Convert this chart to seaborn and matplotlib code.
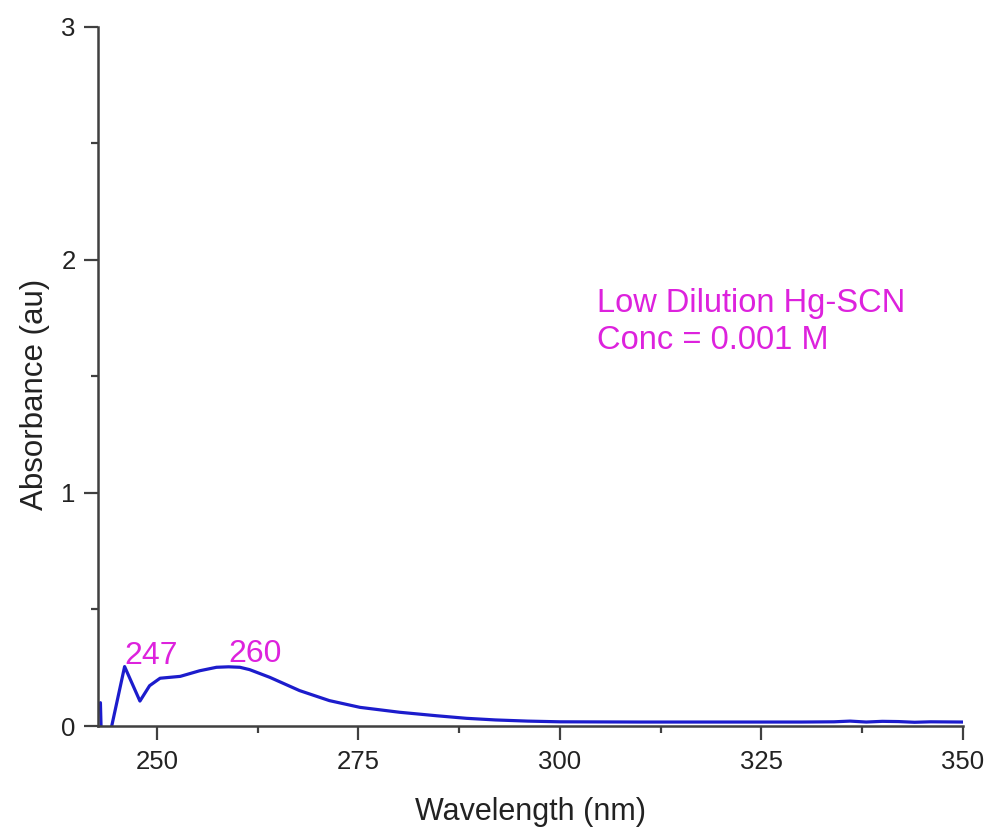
import numpy as np
import pandas as pd
import matplotlib
matplotlib.use("Agg")
import matplotlib.pyplot as plt
import seaborn as sns
from matplotlib.ticker import MultipleLocator

# UV-Vis absorbance spectrum of Hg-SCN (low dilution)
wavelength = [243.0, 243.15, 244.0, 246.0, 247.9, 249.1, 250.4, 252.9, 255.3,
              257.4, 258.9, 260.3, 261.5, 264.0, 267.7, 271.4, 275.2, 280.1,
              284.7, 288.4, 292.0, 296.0, 300.0, 310.0, 320.0, 330.0, 334.0,
              336.0, 338.0, 340.0, 342.0, 344.0, 346.0, 350.0]
absorbance = [0.10, -0.10, -0.064, 0.255, 0.107, 0.173, 0.205, 0.213, 0.237,
              0.252, 0.254, 0.252, 0.242, 0.209, 0.152, 0.109, 0.080, 0.059,
              0.044, 0.033, 0.026, 0.021, 0.018, 0.017, 0.017, 0.017, 0.018,
              0.021, 0.017, 0.020, 0.019, 0.016, 0.018, 0.017]

peak_positions = [246.0, 258.9]
peak_heights = [0.266, 0.273]
peak_labels = ["247", "260"]

note_lines = ["Low Dilution Hg-SCN", "Conc = 0.001 M"]

df = pd.DataFrame({"Wavelength (nm)": wavelength, "Absorbance (au)": absorbance})

sns.set_theme(style="ticks")
plt.rcParams["font.family"] = ["Liberation Sans", "DejaVu Sans"]

fig = plt.figure(figsize=(9.91, 8.30), dpi=100)
ax = fig.add_axes([0.0989, 0.1253, 0.9717 - 0.0989, 0.9675 - 0.1253])

line_color = "#1c1ccc"
label_color = "#dd22dd"
axis_color = "#404040"
text_color = "#222222"

sns.lineplot(data=df, x="Wavelength (nm)", y="Absorbance (au)", ax=ax,
             color=line_color, linewidth=2.3, sort=False)

ax.set_xlim(242.7, 350)
ax.set_ylim(0, 3)
ax.xaxis.set_major_locator(MultipleLocator(25))
ax.xaxis.set_minor_locator(MultipleLocator(12.5))
ax.yaxis.set_major_locator(MultipleLocator(1))
ax.yaxis.set_minor_locator(MultipleLocator(0.5))

for side in ("top", "right"):
    ax.spines[side].set_visible(False)
for side in ("left", "bottom"):
    ax.spines[side].set_color(axis_color)
    ax.spines[side].set_linewidth(1.8)

ax.tick_params(which="major", direction="out", length=10, width=1.6,
               color=axis_color, labelsize=18.5, labelcolor=text_color)
ax.tick_params(axis="x", which="major", pad=7)
ax.tick_params(axis="y", which="major", pad=6)
ax.tick_params(which="minor", direction="out", length=5, width=1.6,
               color=axis_color)

ax.set_xlabel("Wavelength (nm)", fontsize=22, color=text_color)
ax.set_ylabel("Absorbance (au)", fontsize=22.5, color=text_color)
ax.xaxis.set_label_coords(0.5, -0.101)
ax.yaxis.set_label_coords(-0.056, 0.475)

for xp, yp, txt in zip(peak_positions, peak_heights, peak_labels):
    ax.text(xp, yp, txt, color=label_color, fontsize=23, ha="left", va="baseline")

ax.text(304.66, 1.776, note_lines[0], color=label_color, fontsize=23.5,
        ha="left", va="baseline")
ax.text(304.66, 1.618, note_lines[1], color=label_color, fontsize=23.5,
        ha="left", va="baseline")

fig.savefig("out.png", dpi=100)
